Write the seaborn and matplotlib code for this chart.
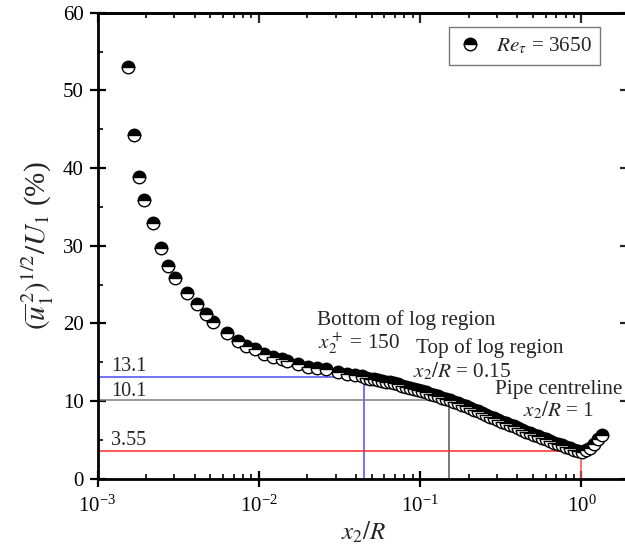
import numpy as np
import pandas as pd
import matplotlib
matplotlib.use("Agg")
import matplotlib.pyplot as plt
import seaborn as sns
from matplotlib.ticker import MultipleLocator, NullFormatter, LogLocator

# Streamwise turbulence intensity profile across the pipe, Re_tau = 3650
x2_over_R = [
    0.00155, 0.00169, 0.00182, 0.00195, 0.00222, 0.00248, 0.00275, 0.00303,
    0.00358, 0.00413, 0.00471, 0.00523, 0.00633, 0.00741, 0.00834, 0.00949,
    0.0108, 0.0123, 0.0139, 0.0150, 0.0176, 0.0203, 0.0231, 0.0261,
    0.0309, 0.0354, 0.0392,
    0.0437, 0.0463, 0.0490, 0.0519, 0.0549, 0.0582, 0.0616, 0.0652,
    0.0690, 0.0731, 0.0774, 0.0819, 0.0868, 0.0919, 0.0973, 0.1030,
    0.1090, 0.1155, 0.1222, 0.1294, 0.1370, 0.1451, 0.1536, 0.1627,
    0.1722, 0.1824, 0.1931, 0.2044, 0.2165, 0.2292, 0.2426, 0.2569,
    0.2720, 0.2880, 0.3050, 0.3229, 0.3419, 0.3620, 0.3833, 0.4058,
    0.4297, 0.4550, 0.4817, 0.5100, 0.5400, 0.5718, 0.6054, 0.6410,
    0.6787, 0.7186, 0.7609, 0.8057, 0.8530, 0.9032, 0.9563, 1.0100,
    1.0700, 1.1350, 1.2020, 1.2730, 1.3450,
]
u_rms_pct = [
    53.0, 44.3, 38.9, 35.9, 32.9, 29.7, 27.4, 25.8,
    23.9, 22.5, 21.2, 20.2, 18.8, 17.7, 17.1, 16.65,
    16.05, 15.7, 15.37, 15.19, 14.76, 14.41, 14.29, 14.08,
    13.77, 13.5, 13.35,
    13.2, 13.0, 12.9, 12.8, 12.7, 12.6, 12.5, 12.4,
    12.3, 12.15, 12.0, 11.85, 11.7, 11.55, 11.4, 11.25,
    11.1, 10.95, 10.8, 10.6, 10.45, 10.3, 10.1, 9.9,
    9.7, 9.5, 9.3, 9.1, 8.9, 8.7, 8.45, 8.25,
    8.0, 7.8, 7.55, 7.35, 7.15, 6.95, 6.75, 6.5,
    6.3, 6.05, 5.85, 5.65, 5.45, 5.25, 5.05, 4.85,
    4.65, 4.45, 4.3, 4.1, 3.9, 3.75, 3.6, 3.5,
    3.65, 3.95, 4.45, 5.05, 5.6,
]

# Reference markers: position along x2/R and intensity level
ref_x = [0.045, 0.15, 1.0]
ref_y = [13.1, 10.1, 3.55]
ref_labels = ["13.1", "10.1", "3.55"]
ref_colors = ["#4a4aff", "#7f7f7f", "#ff2a2a"]
vline_colors = ["#4a4aff", "#555555", "#ff4a4a"]

y_ticks = [0, 10, 20, 30, 40, 50, 60]

sns.set_theme(style="ticks")
plt.rcParams["font.family"] = ["Liberation Serif", "DejaVu Serif"]
plt.rcParams["mathtext.fontset"] = "stix"
plt.rcParams["axes.unicode_minus"] = True

fig = plt.figure(figsize=(6.25, 5.55), dpi=100)
W, H = 625, 555
ax = fig.add_axes([97.5 / W, 76.3 / H, (630 - 97.5) / W, (478.7 - 12.7) / H])

xmin, xmax = 1e-3, 2.0
ax.set_xscale("log")
ax.set_xlim(xmin, xmax)
ax.set_ylim(0, 60)

# Guide lines: horizontal from the axis to the point, vertical down to zero
for xr, yr, ch, cv in zip(ref_x, ref_y, ref_colors, vline_colors):
    ax.plot([xmin, xr], [yr, yr], color=ch, lw=1.1, zorder=1)
    ax.plot([xr, xr], [0, yr], color=cv, lw=1.1, zorder=1)

df = pd.DataFrame({"x": x2_over_R, "y": u_rms_pct})
sns.lineplot(data=df, x="x", y="y", ax=ax, marker="o", linestyle="",
             color="black", markersize=9.0, fillstyle="top",
             markerfacecolor="black", markerfacecoloralt="white",
             markeredgecolor="black", markeredgewidth=1.0,
             label=r"$Re_\tau$ = 3650", sort=False, errorbar=None, zorder=3)

# Level labels
for yr, lab, yo in zip(ref_y, ref_labels, [1.3, 1.1, 1.4]):
    ax.text(0.00121, yr + yo, lab, fontsize=14.5, ha="left", va="center", zorder=2)

ax.text(0.0231, 20.4, "Bottom of log region", fontsize=15.3, ha="left", va="center")
ax.text(0.0233, 17.5, r"$x_2^+$ = 150", fontsize=15.3, ha="left", va="center")
ax.text(0.0944, 16.8, "Top of log region", fontsize=15.3, ha="left", va="center")
ax.text(0.0906, 13.8, r"$x_2/R$ = 0.15", fontsize=15.3, ha="left", va="center")
ax.text(0.722, 11.5, "Pipe centreline", fontsize=15.3, ha="center", va="center")
ax.text(0.722, 8.85, r"$x_2/R$ = 1", fontsize=15.3, ha="center", va="center")

# Axes styling
for s in ax.spines.values():
    s.set_linewidth(2.0)
    s.set_color("black")
ax.set_yticks(y_ticks)
ax.yaxis.set_minor_locator(MultipleLocator(5))
ax.xaxis.set_major_locator(LogLocator(base=10, numticks=10))
ax.xaxis.set_minor_locator(LogLocator(base=10, subs=np.arange(2, 10), numticks=20))
ax.tick_params(which="major", direction="inout", length=12, width=1.6,
               labelsize=15, pad=4, colors="black", top=False, right=False)
ax.tick_params(which="minor", direction="in", length=3.8, width=1.4,
               top=False, right=False)
ax.tick_params(axis="x", which="major", pad=6)

top = ax.secondary_xaxis("top")
top.xaxis.set_major_locator(LogLocator(base=10, numticks=10))
top.xaxis.set_minor_locator(LogLocator(base=10, subs=np.arange(2, 10), numticks=20))
top.xaxis.set_major_formatter(NullFormatter())
top.xaxis.set_minor_formatter(NullFormatter())
top.tick_params(which="major", direction="in", length=7, width=1.6)
top.tick_params(which="minor", direction="in", length=3.8, width=1.4)
top.spines["top"].set_linewidth(2.0)

right = ax.secondary_yaxis("right")
right.set_yticks(y_ticks)
right.yaxis.set_minor_locator(MultipleLocator(5))
right.yaxis.set_major_formatter(NullFormatter())
right.tick_params(which="major", direction="in", length=7, width=1.6)
right.tick_params(which="minor", direction="in", length=3.8, width=1.4)

ax.set_xlabel(r"$x_2/R$", fontsize=18, labelpad=2)
ax.set_ylabel(r"$(\overline{u}_1^{\,2})^{1/2}/U_1$ (%)", fontsize=21, labelpad=5)

leg = ax.legend(loc="upper right", bbox_to_anchor=(600 / W, 1 - 27 / H),
                bbox_transform=fig.transFigure, borderaxespad=0,
                frameon=True, fancybox=False, fontsize=15.3, handlelength=1.2,
                handletextpad=0.6, borderpad=0.4)
leg.get_frame().set_edgecolor("#555555")
leg.get_frame().set_linewidth(1.0)

fig.savefig("out.png", dpi=100)
